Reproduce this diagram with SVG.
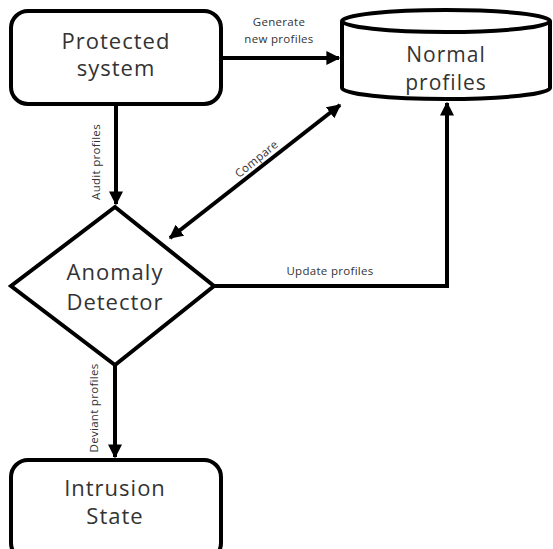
<svg xmlns="http://www.w3.org/2000/svg" width="553" height="549" viewBox="0 0 553 549">
<style>
.shape{fill:#fff;stroke:#000;stroke-width:4}
.big{font-family:"Open Sans","Liberation Sans",sans-serif;font-size:22px;letter-spacing:1px;fill:#333;text-anchor:middle}
.lbl{font-family:"Open Sans","Liberation Sans",sans-serif;font-size:11.5px;letter-spacing:0.3px;fill:#333;text-anchor:middle}
.edge{fill:none;stroke:#000;stroke-width:4}
</style>
<defs>
<marker id="ah" viewBox="0 0 10 10" refX="9" refY="5" markerWidth="3.5" markerHeight="3.5" orient="auto-start-reverse" markerUnits="strokeWidth">
<path d="M0,0 L10,5 L0,10 z" fill="#000"/>
</marker>
</defs>
<rect width="553" height="549" fill="#fff"/>
<g id="connectors">
<line class="edge" x1="222" y1="58" x2="339" y2="58" marker-end="url(#ah)"/>
<line class="edge" x1="116" y1="105" x2="116" y2="204" marker-end="url(#ah)"/>
<line class="edge" x1="170" y1="238" x2="340" y2="105" marker-start="url(#ah)" marker-end="url(#ah)"/>
<polyline class="edge" points="215,286 447,286 447,103" marker-end="url(#ah)"/>
<line class="edge" x1="115" y1="365" x2="115" y2="457" marker-end="url(#ah)"/>
<text class="lbl" x="279" y="26">Generate</text>
<text class="lbl" x="279" y="43">new profiles</text>
<text class="lbl" transform="translate(100,162) rotate(-90)">Audit profiles</text>
<text class="lbl" transform="translate(259,162) rotate(-39)">Compare</text>
<text class="lbl" x="330" y="275">Update profiles</text>
<text class="lbl" transform="translate(98,408) rotate(-90)">Deviant profiles</text>
</g>
<g id="protected">
<rect class="shape" x="11" y="11" width="210" height="93" rx="17"/>
<text class="big" x="116" y="49">Protected</text>
<text class="big" x="116" y="76">system</text>
</g>
<g id="normal">
<path class="shape" d="M342,21 L342,88 A104,11 0 0 0 550,88 L550,21"/>
<ellipse class="shape" cx="446" cy="21" rx="104" ry="11"/>
<text class="big" x="446" y="62" style="font-size:21px">Normal</text>
<text class="big" x="446" y="90" style="font-size:21px">profiles</text>
</g>
<g id="detector">
<polygon class="shape" points="115,207 214,286 115,365 11,286"/>
<text class="big" x="115" y="280">Anomaly</text>
<text class="big" x="115" y="310">Detector</text>
</g>
<g id="intrusion">
<rect class="shape" x="11" y="460" width="210" height="100" rx="17"/>
<text class="big" x="115" y="496">Intrusion</text>
<text class="big" x="115" y="524">State</text>
</g>
</svg>
